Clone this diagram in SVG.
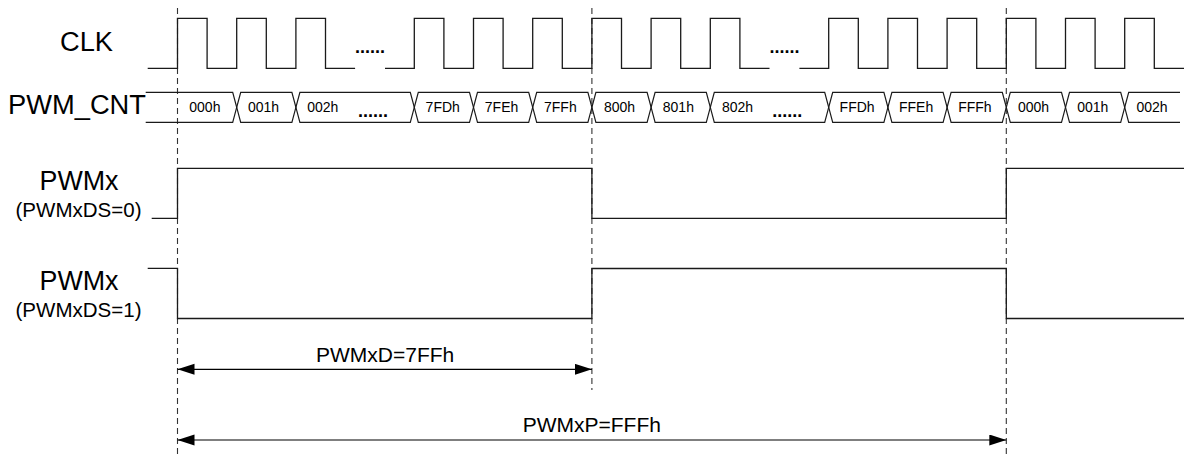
<svg xmlns="http://www.w3.org/2000/svg" width="1194" height="459" viewBox="0 0 1194 459">
<defs>
<style>
.lbl{font-family:"Liberation Sans",Arial,sans-serif;fill:#000;font-size:27px}
.sub{font-family:"Liberation Sans",Arial,sans-serif;fill:#000;font-size:20.5px}
.cnt{font-family:"Liberation Sans",Arial,sans-serif;fill:#000;font-size:14px}
.dim{font-family:"Liberation Sans",Arial,sans-serif;fill:#000;font-size:21px}
.dots{font-family:"Liberation Sans",Arial,sans-serif;fill:#000;font-size:18px;font-weight:bold}
.sig{fill:none;stroke:#1a1a1a;stroke-width:1.3}
.bus{fill:none;stroke:#1a1a1a;stroke-width:1.2}
.dash{fill:none;stroke:#333;stroke-width:1.1;stroke-dasharray:6 4}
.arr{fill:none;stroke:#000;stroke-width:1.2}
</style>
<marker id="ah" markerUnits="userSpaceOnUse" markerWidth="18" markerHeight="12" refX="17" refY="5.5" orient="auto-start-reverse">
<path d="M0,0 L17,5.5 L0,11 Z" fill="#000"/>
</marker>
</defs>
<rect width="1194" height="459" fill="#fff"/>

<g id="labels">
<text class="lbl" x="60" y="51" textLength="53" lengthAdjust="spacingAndGlyphs">CLK</text>
<text class="lbl" x="8" y="114" textLength="138" lengthAdjust="spacingAndGlyphs">PWM_CNT</text>
<text class="lbl" x="39.5" y="189.5" textLength="79" lengthAdjust="spacingAndGlyphs">PWMx</text>
<text class="sub" x="15.5" y="216.5" textLength="126" lengthAdjust="spacingAndGlyphs">(PWMxDS=0)</text>
<text class="lbl" x="39.5" y="289.5" textLength="79" lengthAdjust="spacingAndGlyphs">PWMx</text>
<text class="sub" x="15.5" y="316.5" textLength="126" lengthAdjust="spacingAndGlyphs">(PWMxDS=1)</text>
</g>

<g id="guides">
<line class="dash" x1="177.5" y1="8" x2="177.5" y2="457"/>
<line class="dash" x1="591.9" y1="8" x2="591.9" y2="390"/>
<line class="dash" x1="1006.3" y1="8" x2="1006.3" y2="457"/>
</g>

<g id="clk">
<path class="sig" d="M147.7,68.3 H177.5 V18.3 H207.1 V68.3 H236.7 V18.3 H266.3 V68.3 H295.9 V18.3 H325.5 V68.3 H355.1"/>
<path class="sig" d="M385,68.3 H414.3 V18.3 H443.9 V68.3 H473.5 V18.3 H503.1 V68.3 H532.7 V18.3 H562.3 V68.3 H591.9 V18.3 H621.5 V68.3 H651.1 V18.3 H680.7 V68.3 H710.3 V18.3 H739.9 V68.3 H769.5"/>
<path class="sig" d="M799.4,68.3 H828.7 V18.3 H858.3 V68.3 H887.9 V18.3 H917.5 V68.3 H947.1 V18.3 H976.7 V68.3 H1006.3 V18.3 H1035.9 V68.3 H1065.5 V18.3 H1095.1 V68.3 H1124.7 V18.3 H1154.3 V68.3 H1184"/>
<text class="dots" x="355" y="52.5" textLength="30" lengthAdjust="spacingAndGlyphs">......</text>
<text class="dots" x="769.5" y="52.5" textLength="30" lengthAdjust="spacingAndGlyphs">......</text>
</g>

<g id="pwm_cnt">
<path class="bus" d="M145.7,92.3 H232.7 L236.7,107.3 L232.7,122.3 H145.7"/>
<path class="bus" d="M240.7,92.3 H291.9 L295.9,107.3 L291.9,122.3 H240.7 L236.7,107.3 Z"/>
<path class="bus" d="M299.9,92.3 H410.3 L414.3,107.3 L410.3,122.3 H299.9 L295.9,107.3 Z"/>
<path class="bus" d="M418.3,92.3 H469.5 L473.5,107.3 L469.5,122.3 H418.3 L414.3,107.3 Z"/>
<path class="bus" d="M477.5,92.3 H528.7 L532.7,107.3 L528.7,122.3 H477.5 L473.5,107.3 Z"/>
<path class="bus" d="M536.7,92.3 H587.9 L591.9,107.3 L587.9,122.3 H536.7 L532.7,107.3 Z"/>
<path class="bus" d="M595.9,92.3 H647.1 L651.1,107.3 L647.1,122.3 H595.9 L591.9,107.3 Z"/>
<path class="bus" d="M655.1,92.3 H706.3 L710.3,107.3 L706.3,122.3 H655.1 L651.1,107.3 Z"/>
<path class="bus" d="M714.3,92.3 H824.7 L828.7,107.3 L824.7,122.3 H714.3 L710.3,107.3 Z"/>
<path class="bus" d="M832.7,92.3 H883.9 L887.9,107.3 L883.9,122.3 H832.7 L828.7,107.3 Z"/>
<path class="bus" d="M891.9,92.3 H943.1 L947.1,107.3 L943.1,122.3 H891.9 L887.9,107.3 Z"/>
<path class="bus" d="M951.1,92.3 H1002.3 L1006.3,107.3 L1002.3,122.3 H951.1 L947.1,107.3 Z"/>
<path class="bus" d="M1010.3,92.3 H1061.5 L1065.5,107.3 L1061.5,122.3 H1010.3 L1006.3,107.3 Z"/>
<path class="bus" d="M1069.5,92.3 H1120.7 L1124.7,107.3 L1120.7,122.3 H1069.5 L1065.5,107.3 Z"/>
<path class="bus" d="M1180,92.3 H1128.7 L1124.7,107.3 L1128.7,122.3 H1180"/>
<text class="cnt" x="189.3" y="112">000h</text>
<text class="cnt" x="248" y="112">001h</text>
<text class="cnt" x="307.2" y="112">002h</text>
<text class="dots" x="358" y="117" textLength="30" lengthAdjust="spacingAndGlyphs">......</text>
<text class="cnt" x="425.6" y="112">7FDh</text>
<text class="cnt" x="484.8" y="112">7FEh</text>
<text class="cnt" x="544" y="112">7FFh</text>
<text class="cnt" x="604" y="112">800h</text>
<text class="cnt" x="662.8" y="112">801h</text>
<text class="cnt" x="722" y="112">802h</text>
<text class="dots" x="772.3" y="117" textLength="30" lengthAdjust="spacingAndGlyphs">......</text>
<text class="cnt" x="839.6" y="112">FFDh</text>
<text class="cnt" x="899" y="112">FFEh</text>
<text class="cnt" x="958.2" y="112">FFFh</text>
<text class="cnt" x="1018" y="112">000h</text>
<text class="cnt" x="1077.2" y="112">001h</text>
<text class="cnt" x="1136.4" y="112">002h</text>
</g>

<g id="pwmx_ds0">
<path class="sig" d="M151.7,218.3 H177.5 V168.3 H591.9 V218.3 H1006.3 V168.3 H1184"/>
</g>

<g id="pwmx_ds1">
<path class="sig" d="M147.7,268.3 H177.5 V318.5 H591.9 V268.5 H1006.3 V318.5 H1184"/>
</g>

<g id="connectors">
<line class="arr" x1="177.5" y1="369.3" x2="591.9" y2="369.3" marker-start="url(#ah)" marker-end="url(#ah)"/>
<line class="arr" x1="177.5" y1="440" x2="1006.3" y2="440" marker-start="url(#ah)" marker-end="url(#ah)"/>
</g>

<g id="dims">
<text class="dim" x="316" y="361.7">PWMxD=7FFh</text>
<text class="dim" x="522.7" y="431.7">PWMxP=FFFh</text>
</g>
</svg>
